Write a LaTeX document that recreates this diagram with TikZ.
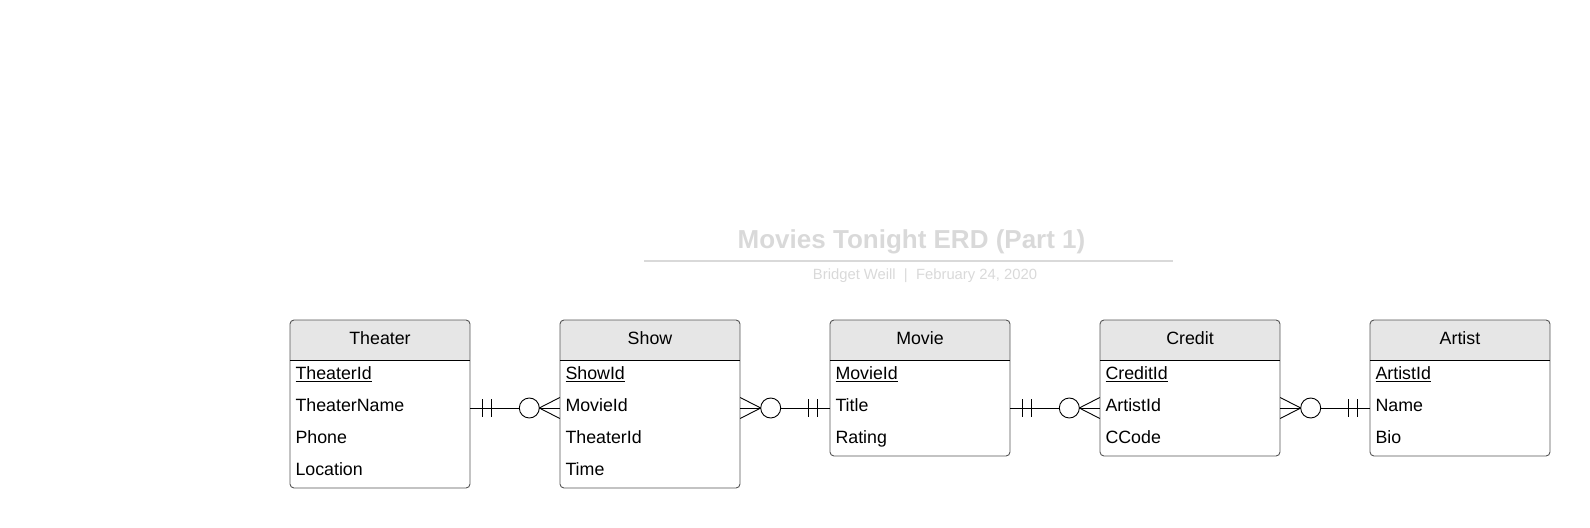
\documentclass[tikz,border=0pt]{standalone}
\usepackage{fontspec}
\setmainfont{Liberation Sans}
\usetikzlibrary{calc,backgrounds}
\definecolor{hdrfill}{HTML}{E6E6E6}
\definecolor{boxline}{HTML}{555555}
\definecolor{titlegray}{HTML}{D9D9D9}
\definecolor{subgray}{HTML}{D9D9D9}
\tikzset{
  entbox/.style={draw=boxline, line width=0.9bp, rounded corners=4bp, minimum width=180bp, inner sep=0pt, outer sep=0pt, anchor=north west},
  hdrtext/.style={font=\fontsize{17.8bp}{20bp}\selectfont, inner sep=0pt, text height=12.5bp, text depth=0bp},
  rowtext/.style={font=\fontsize{17.8bp}{20bp}\selectfont, inner ysep=0pt, inner xsep=5.5bp, text width=169bp, align=left, text height=12bp, text depth=5bp},
  sepline/.style={draw=black, line width=0.9bp},
  conn/.style={draw=black, line width=0.9bp},
}
\newcommand\erdbox[5]{%
  \pgfmathsetmacro\erdboxh{40+32*#4}%
  \node[entbox, minimum height=\erdboxh bp] (#1) at (#2,320) {};
  \begin{scope}[on background layer]
    \fill[hdrfill, rounded corners=4bp] (#1.north west) rectangle ($(#1.north east)+(0,40)$);
    \fill[hdrfill] ($(#1.north west)+(0,20)$) rectangle ($(#1.north east)+(0,40)$);
  \end{scope}
  \node[hdrtext] (#1-h) at ($(#1.north)+(0,18.5)$) {#3};
  \draw[sepline] ($(#1.north west)+(0,40)$) -- ($(#1.north east)+(0,40)$);
  \foreach \t [count=\i] in {#5} {
    \node[rowtext] (#1-r\i) at ($(#1.north)+(0,{40+16+32*(\i-1)})$) {\t};
  }
}
\newcommand\erdone[2]{%
  \draw[conn] ($(#1)+({#2*12.5},-9)$) -- ($(#1)+({#2*12.5},9)$);
  \draw[conn] ($(#1)+({#2*21},-9)$) -- ($(#1)+({#2*21},9)$);
}
\newcommand\erdmany[2]{%
  \draw[conn, fill=white] ($(#1)+({#2*30.5},0)$) circle[radius=10bp];
  \draw[conn] ($(#1)+({#2*20.5},0)$) -- ($(#1)+(0,-10.5)$);
  \draw[conn] ($(#1)+({#2*20.5},0)$) -- ($(#1)+(0,10.5)$);
}
\begin{document}
\begin{tikzpicture}[x=1bp,y=-1bp]
\useasboundingbox (0,0) rectangle (1590,528);
% title
\node[font=\fontsize{26bp}{30bp}\selectfont\bfseries, text=titlegray, inner sep=0pt] (title) at (911.5,241.5) {Movies Tonight ERD (Part 1)};
\coordinate (lineL) at (644,260.7);
\coordinate (lineR) at (1173,260.7);
\draw[titlegray, line width=2bp] (lineL) -- (lineR);
\node[font=\fontsize{14.8bp}{17bp}\selectfont, text=subgray, inner sep=0pt] (sub) at (925,275.5) {Bridget Weill\ \ |\ \ February 24, 2020};
% entities
\erdbox{theater}{290}{Theater}{4}{\underline{TheaterId},TheaterName,Phone,Location}
\erdbox{show}{560}{Show}{4}{\underline{ShowId},MovieId,TheaterId,Time}
\erdbox{movie}{830}{Movie}{3}{\underline{MovieId},Title,Rating}
\erdbox{credit}{1100}{Credit}{3}{\underline{CreditId},ArtistId,CCode}
\erdbox{artist}{1370}{Artist}{3}{\underline{ArtistId},Name,Bio}
% connectors
\draw[conn] (theater-r2.east) -- (show-r2.west);
\erdone{theater-r2.east}{1}
\erdmany{show-r2.west}{-1}
\draw[conn] (show-r2.east) -- (movie-r2.west);
\erdmany{show-r2.east}{1}
\erdone{movie-r2.west}{-1}
\draw[conn] (movie-r2.east) -- (credit-r2.west);
\erdone{movie-r2.east}{1}
\erdmany{credit-r2.west}{-1}
\draw[conn] (credit-r2.east) -- (artist-r2.west);
\erdmany{credit-r2.east}{1}
\erdone{artist-r2.west}{-1}
\end{tikzpicture}
\end{document}
